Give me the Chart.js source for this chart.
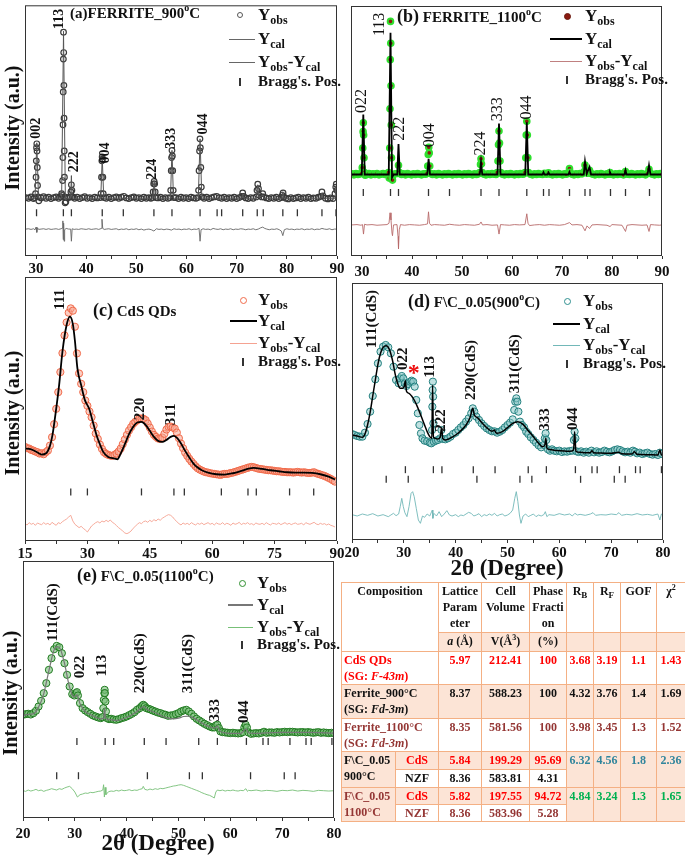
<!DOCTYPE html>
<html>
<head>
<meta charset="utf-8">
<script src="https://cdn.jsdelivr.net/npm/chart.js@4.4.0/dist/chart.umd.min.js"></script>
<style>
body{margin:0;width:685px;height:864px;position:relative;background:#fff;overflow:hidden;
  font-family:"Liberation Serif","Times New Roman",serif;font-weight:bold;color:#111}
canvas{position:absolute}
.t{position:absolute;white-space:nowrap;line-height:1}
.t sub{font-size:12px;vertical-align:baseline;position:relative;top:4px}
.t sup{font-size:10px;vertical-align:baseline;position:relative;top:-7px}
.lg{font-size:17px}
.lg2{font-size:15px}
.ti{font-size:15px}
.big{font-size:18px}
.yt{font-size:20px;transform:translate(-50%,-50%) rotate(-90deg)}
.xt{font-size:23px;transform:translateX(-50%)}
#tbl{position:absolute;left:341px;top:582px;width:344px;border-collapse:collapse;table-layout:fixed;font-size:12px;font-weight:bold}
#tbl td{border:1px solid #f4b084;padding:0 1px;vertical-align:top;text-align:center;line-height:16px;white-space:nowrap;overflow:hidden}
#tbl sub{font-size:9px;vertical-align:baseline;position:relative;top:3px}
#tbl sup{font-size:8px;vertical-align:baseline;position:relative;top:-5px}
.pe{background:#fce4d6}
#tbl td.l{text-align:left;padding-left:2px}
.red{color:#ff0000}.dr{color:#943634}.teal{color:#31859c}.grn{color:#00b050}
</style>
</head>
<body>
<canvas id="cA" width="355" height="285" style="left:0;top:0"></canvas>
<canvas id="cB" width="345" height="285" style="left:340px;top:0"></canvas>
<canvas id="cC" width="355" height="295" style="left:0;top:270px"></canvas>
<canvas id="cD" width="345" height="290" style="left:340px;top:276px"></canvas>
<canvas id="cE" width="350" height="300" style="left:0;top:553px"></canvas>

<div class="t ti" style="left:70px;top:6px">(a)FERRITE_900<sup>o</sup>C</div>
<div class="t ti" style="left:397px;top:7px"><span class="big">(b)</span> FERRITE_1100<sup>o</sup>C</div>
<div class="t ti" style="left:93px;top:301px"><span class="big">(c)</span> CdS QDs</div>
<div class="t ti" style="left:408px;top:292px"><span class="big">(d)</span> F\C_0.05(900<sup>o</sup>C)</div>
<div class="t ti" style="left:77px;top:566px"><span class="big">(e)</span> F\C_0.05(1100<sup>o</sup>C)</div>

<div class="t yt" style="left:12px;top:128px">Intensity (a.u.)</div>
<div class="t yt" style="left:12px;top:413px">Intensity (a.u.)</div>
<div class="t yt" style="left:10px;top:693px">Intensity (a.u.)</div>
<div class="t xt" style="left:507px;top:556px">2θ (Degree)</div>
<div class="t xt" style="left:158px;top:831px">2θ (Degree)</div>

<table id="tbl">
<colgroup><col style="width:54px"><col style="width:43px"><col style="width:43px"><col style="width:48px"><col style="width:37px"><col style="width:27px"><col style="width:27px"><col style="width:36px"><col style="width:29px"></colgroup>
<tr style="height:50px"><td colspan="2" rowspan="2">Composition</td><td>Lattice<br>Param<br>eter</td><td>Cell<br>Volume</td><td>Phase<br>Fracti<br>on</td><td>R<sub>B</sub></td><td>R<sub>F</sub></td><td>GOF</td><td>χ<sup>2</sup></td></tr>
<tr class="pe" style="height:17px"><td><i>a</i> (Å)</td><td>V(Å<sup>3</sup>)</td><td>(%)</td><td></td><td></td><td></td><td></td></tr>
<tr class="red" style="height:33px"><td colspan="2" class="l">CdS QDs<br>(SG: <i>F-43m</i>)</td><td>5.97</td><td>212.41</td><td>100</td><td>3.68</td><td>3.19</td><td>1.1</td><td>1.43</td></tr>
<tr class="pe" style="height:34px"><td colspan="2" class="l">Ferrite_900°C<br>(SG: <i>Fd-3m</i>)</td><td>8.37</td><td>588.23</td><td>100</td><td>4.32</td><td>3.76</td><td>1.4</td><td>1.69</td></tr>
<tr class="dr" style="height:33px"><td colspan="2" class="l">Ferrite_1100°C<br>(SG: <i>Fd-3m</i>)</td><td>8.35</td><td>581.56</td><td>100</td><td>3.98</td><td>3.45</td><td>1.3</td><td>1.52</td></tr>
<tr style="height:18px"><td rowspan="2" class="l pe">F\C_0.05<br>900°C</td><td class="pe red">CdS</td><td class="pe red">5.84</td><td class="pe red">199.29</td><td class="pe red">95.69</td><td rowspan="2" class="pe teal">6.32</td><td rowspan="2" class="pe teal">4.56</td><td rowspan="2" class="pe teal">1.8</td><td rowspan="2" class="pe teal">2.36</td></tr>
<tr style="height:18px"><td>NZF</td><td>8.36</td><td>583.81</td><td>4.31</td></tr>
<tr style="height:17px"><td rowspan="2" class="l pe dr">F\C_0.05<br>1100°C</td><td class="pe red">CdS</td><td class="pe red">5.82</td><td class="pe red">197.55</td><td class="pe red">94.72</td><td rowspan="2" class="pe grn">4.84</td><td rowspan="2" class="pe grn">3.24</td><td rowspan="2" class="pe grn">1.3</td><td rowspan="2" class="pe grn">1.65</td></tr>
<tr class="dr" style="height:17px"><td>NZF</td><td>8.36</td><td>583.96</td><td>5.28</td></tr>
</table>

<script>
// ---------- (a) ferrite 900 C ----------
const obsA = [
  [28,178],[28.5,176],[29,180],[29.5,175],[29.7,178],[29.9,190],[30,240],[30.05,290],[30.1,330],[30.15,342],[30.2,320],[30.25,270],[30.3,215],[30.4,180],[30.55,168],
  [31,177],[31.5,181],[32,176],[32.5,179],[33,175],[33.5,178],[34,180],[34.5,176],[34.9,180],[35.1,190],[35.2,185],[35.3,230],[35.35,300],[35.38,400],[35.42,500],[35.45,600],
  [35.48,682],[35.52,620],[35.55,520],[35.58,420],[35.62,320],[35.66,240],[35.72,180],[35.8,162],[35.95,165],[36.1,178],
  [36.5,178],[36.8,180],[36.95,195],[37.05,217],[37.15,200],[37.3,180],[37.7,176],[38.2,179],[38.7,175],[39.2,178],[39.7,181],[40.2,176],[40.7,178],[41.2,175],[41.7,179],[42.2,177],
  [42.8,178],[42.95,190],[43.05,240],[43.12,290],[43.18,302],[43.25,295],[43.32,240],[43.4,190],[43.55,178],
  [44,176],[44.5,179],[45,175],[45.5,178],[46,180],[46.5,176],[47,179],[47.5,182],[48,177],[48.5,175],[49,178],[49.5,180],[50,176],[50.5,178],[51,175],[51.5,179],[52,176],[52.5,178],[52.9,176],
  [53.2,178],[53.35,195],[53.45,220],[53.55,227],[53.65,220],[53.75,195],[53.9,178],
  [54.3,177],[54.8,179],[55.3,175],[55.8,178],[56.3,176],
  [56.7,178],[56.85,200],[56.95,260],[57.02,300],[57.1,322],[57.18,305],[57.25,260],[57.35,200],[57.5,178],
  [57.9,178],[58.4,175],[58.9,179],[59.4,176],[59.9,178],[60.4,175],[60.9,179],[61.4,177],[61.9,176],
  [62.25,178],[62.4,200],[62.5,260],[62.6,320],[62.68,357],[62.76,330],[62.85,270],[62.95,210],[63.1,180],
  [63.5,176],[64,179],[64.5,175],[65,178],[65.5,180],[66,182],[66.5,178],[67,176],[67.5,179],[68,175],[68.5,178],[69,176],[69.5,179],[70,175],[70.5,178],
  [71,182],[71.2,192],[71.4,182],[71.8,177],[72.3,175],[72.8,178],[73.3,176],
  [73.9,180],[74.05,200],[74.2,219],[74.35,205],[74.5,185],[75,180],[75.2,190],[75.4,180],
  [75.9,177],[76.4,175],[76.9,178],[77.4,176],[77.9,179],[78.4,175],[78.9,178],[79.1,185],[79.25,192],[79.4,180],
  [79.8,176],[80.3,174],[80.8,178],[81.3,175],[81.8,177],[82.3,179],[82.8,175],[83.3,178],[83.8,176],[84.3,179],[84.8,175],[85.3,177],[85.8,176],[86.3,179],
  [86.8,182],[87,195],[87.2,183],[87.7,176],[88.2,174],[88.7,177],[89.2,175],[89.6,190],[89.75,210],[89.85,219],[89.95,200]
];
const calA = [
  [27.8,176],[29.8,176],[30.15,345],[30.5,176],[35.1,176],[35.48,685],[35.85,168],[36.2,176],[36.9,176],[37.05,245],[37.2,176],
  [42.9,176],[43.2,300],[43.5,176],[53.3,176],[53.55,228],[53.8,176],[56.8,176],[57.1,322],[57.4,176],[62.35,176],[62.7,357],[63.05,176],
  [71,176],[71.2,190],[71.4,176],[73.95,176],[74.2,217],[74.45,178],[75.2,186],[75.4,176],[79,176],[79.2,196],[79.4,176],
  [86.8,176],[87,192],[87.2,176],[89.6,176],[89.85,218],[90,205]
];
const difA = [
  [28,82],[28.5,83],[29,81],[29.5,83],[29.8,80],[30,88],[30.15,72],[30.3,86],[30.5,81],[31,82],[31.5,83],[32,81],[32.5,83],[33,81],[33.5,82],[34,83],[34.5,81],[35,83],
  [35.25,85],[35.35,107],[35.42,50],[35.5,100],[35.6,45],[35.7,80],[36,84],[36.5,82],[36.9,82],[37.05,45],[37.2,83],[37.6,81],[38,82],[38.5,81],[39,83],[39.5,82],[40,81],
  [40.5,83],[41,81],[41.5,82],[42,83],[42.5,81],[43.05,84],[43.15,112],[43.3,84],[43.6,81],[44,82],[44.5,83],[45,81],[45.5,82],[46,83],[46.5,80],[47,82],[47.5,81],[48,83],
  [48.5,80],[49,82],[49.5,81],[50,83],[50.5,80],[51,82],[51.5,79],[52,81],[52.5,82],[53,80],[53.5,76],[54,83],[54.5,81],[55,82],[55.5,80],[56,82],[56.5,81],[57,79],
  [57.5,83],[58,81],[58.5,82],[59,80],[59.5,82],[60,81],[60.5,83],[61,80],[61.5,82],[62,81],[62.5,84],[62.7,45],[62.9,80],[63.3,83],[63.8,81],[64.3,82],[64.8,80],
  [65.3,84],[65.8,82],[66.3,81],[66.8,83],[67.3,80],[67.8,82],[68.3,81],[68.8,83],[69.3,80],[69.8,82],[70.3,81],[70.8,83],[71.3,82],[71.8,80],[72.3,82],[72.8,81],
  [73.3,83],[73.8,80],[74.3,82],[74.8,86],[75.2,88],[75.6,84],[76,82],[76.5,80],[77,82],[77.5,81],[78,83],[78.5,80],[78.9,76],[79.2,62],[79.5,80],[80,83],[80.5,81],
  [81,82],[81.5,80],[82,82],[82.5,81],[83,83],[83.5,80],[84,82],[84.5,81],[85,83],[85.5,80],[86,82],[86.5,81],[87,84],[87.5,82],[88,81],[88.5,83],[89,80],[89.5,82],[90,82]
];
const braggA = [30.1, 35.45, 37.05, 43.2, 47.4, 53.5, 57.1, 62.7, 66.1, 67.0, 71.2, 74.1, 75.3, 79.2, 82.1, 87.0, 89.8];
const peaksA = [[30.0,357,'002'],[34.6,692,'113'],[37.6,255,'222'],[43.9,282,'004'],[53.1,232,'224'],[57.0,327,'333'],[63.3,370,'044']];

// ---------- (b) ferrite 1100 C ----------
const obsB = [
  [28,251],[28.4,248],[28.8,252],[29.2,249],[29.6,251],[29.9,252],[30.05,270],[30.15,330],[30.22,380],[30.27,407],[30.33,370],[30.4,300],[30.5,255],[30.65,247],
  [31,250],[31.4,252],[31.8,248],[32.2,251],[32.6,249],[33,252],[33.4,248],[33.8,250],[34.2,252],[34.6,249],[35,251],[35.3,255],[35.45,238],[35.55,330],[35.6,450],
  [35.65,600],[35.7,717],[35.75,650],[35.8,520],[35.85,400],[35.9,300],[36,240],[36.1,232],[36.25,248],
  [36.6,251],[37.1,252],[37.3,277],[37.5,255],[37.9,249],[38.3,251],[38.7,248],[39.1,252],[39.5,250],[39.9,248],[40.3,251],[40.7,249],[41.1,252],[41.5,250],[41.9,248],[42.3,251],[42.7,250],
  [43,252],[43.15,275],[43.25,310],[43.35,332],[43.45,315],[43.55,275],[43.7,252],
  [44.1,249],[44.5,251],[44.9,248],[45.3,252],[45.7,250],[46.1,248],[46.5,251],[46.9,249],[47.3,252],[47.7,250],[48.1,248],[48.5,251],[48.9,249],[49.3,252],[49.7,250],
  [50.1,248],[50.5,251],[50.9,249],[51.3,252],[51.7,250],[52.1,248],[52.5,251],[52.9,249],[53.3,251],
  [53.55,255],[53.7,280],[53.8,297],[53.9,282],[54.05,255],
  [54.4,250],[54.8,248],[55.2,251],[55.6,249],[56,252],[56.4,250],[56.8,249],
  [57.05,255],[57.2,290],[57.3,340],[57.4,382],[57.5,345],[57.6,290],[57.75,255],
  [58.1,250],[58.5,248],[58.9,251],[59.3,249],[59.7,252],[60.1,250],[60.5,248],[60.9,251],[61.3,249],[61.7,252],[62.1,250],[62.4,251],
  [62.6,255],[62.75,300],[62.85,370],[62.96,412],[63.07,370],[63.17,300],[63.3,255],
  [63.7,250],[64.1,248],[64.5,251],[64.9,249],[65.3,252],[65.7,250],[66.1,249],[66.5,253],[66.9,250],[67.3,254],[67.7,250],[68.1,248],[68.5,251],[68.9,249],[69.3,252],
  [69.7,250],[70.1,248],[70.5,251],[70.9,250],[71.35,256],[71.5,267],[71.65,256],[72,250],[72.4,248],[72.8,251],[73.2,249],[73.6,252],[74,251],[74.45,258],[74.6,278],
  [74.75,262],[75.1,253],[75.5,262],[75.8,252],[76.2,250],[76.6,248],[77,251],[77.4,249],[77.8,252],[78.2,250],[78.6,248],[79,251],[79.4,250],[79.6,255],[79.9,250],
  [80.3,248],[80.7,251],[81.1,249],[81.5,252],[81.9,250],[82.3,248],[82.7,258],[83.1,250],[83.5,249],[83.9,252],[84.3,250],[84.7,248],[85.1,251],[85.5,249],[85.9,252],
  [86.3,250],[86.7,248],[87.1,252],[87.4,265],[87.7,252],[88.1,250],[88.5,248],[88.9,251],[89.3,249],[89.7,252],[90,250]
];
const calB = [
  [27.8,249],[29.95,249],[30.26,432],[30.55,249],[35.35,249],[35.7,682],[36,240],[36.3,249],[37.05,249],[37.3,342],[37.55,249],[43.05,249],[43.32,297],[43.6,249],
  [53.55,249],[53.8,287],[54.05,249],[57.1,249],[57.4,405],[57.7,249],[62.65,249],[62.96,409],[63.25,249],[66.1,249],[66.3,256],[66.5,249],[67.1,249],[67.3,255],
  [67.5,249],[71.3,249],[71.5,257],[71.7,249],[74.35,249],[74.6,289],[74.95,252],[75.5,272],[75.8,249],[79.4,249],[79.6,256],[79.8,249],[82.5,249],[82.7,262],
  [82.9,249],[87.1,249],[87.4,277],[87.7,249],[90,249]
];
const difB = [
  [28,95],[29,96],[29.8,94],[30.1,96],[30.3,67],[30.5,97],[31,95],[32,96],[33,94],[34,95],[35,96],[35.4,100],[35.6,132],[35.8,110],[36,70],[36.1,62],[36.3,95],[37,96],
  [37.2,60],[37.3,22],[37.45,80],[37.7,96],[38.5,94],[39.5,96],[40.5,95],[41.5,94],[42.5,96],[43.1,98],[43.3,135],[43.5,100],[43.8,94],[44.5,96],[45.5,95],[46.5,94],
  [47.5,97],[48.5,95],[49.5,94],[50.5,96],[51.5,95],[52.5,94],[53.5,97],[53.8,104],[54.1,95],[55,96],[56,94],[57.1,95],[57.4,67],[57.7,96],[58.5,95],[59.5,94],[60.5,96],
  [61.5,95],[62.6,96],[62.96,129],[63.2,100],[63.5,93],[64.5,95],[65.5,96],[66.5,94],[67.5,96],[68.5,95],[69.5,94],[70.5,96],[71.5,102],[72,95],[73,96],[74,94],
  [74.6,77],[75,92],[75.5,84],[76,95],[77,96],[78,95],[79,94],[79.6,90],[80,96],[81,95],[82,94],[82.7,75],[83,94],[84,96],[85,95],[86,94],[87,95],[87.4,75],[87.7,96],
  [88.5,95],[89.5,94],[90,95]
];
const braggB = [30.26, 35.7, 37.3, 43.3, 47.5, 53.8, 57.4, 62.96, 66.3, 67.4, 71.5, 74.6, 75.6, 79.7, 82.7, 87.5];
const peaksB = [[30.0,437,'022'],[33.5,672,'113'],[37.6,352,'222'],[43.5,332,'004'],[53.7,307,'224'],[57.2,412,'333'],[62.9,417,'044']];

// ---------- (c) CdS QDs (observed and difference sampled every 0.5 deg from 15) ----------
const obsC = [
  282,278,277,273,271,268,266,262,263,260,
  266,271,286,311,350,396,446,506,563,616,
  655,684,697,690,642,562,502,471,446,421,
  405,388,371,346,322,306,289,276,266,261,
  258,256,255,258,262,268,277,290,304,318,
  331,341,351,357,362,367,367,366,362,352,
  340,328,318,312,307,306,310,321,334,342,
  343,340,337,325,308,292,278,265,255,246,
  238,231,224,218,214,211,208,206,205,203,
  202,201,200,199,198,200,201,201,202,204,
  205,207,209,211,213,215,217,219,221,222,
  221,219,217,216,215,214,213,212,212,211,
  210,209,209,208,207,207,206,206,206,205,
  206,207,206,205,206,205,204,204,205,206,
  203,201,199,197,195,192,189,186,182,178
];
const difC = [
  52,48,55,50,53,47,54,51,49,55,
  50,53,48,56,51,47,55,52,58,62,
  66,72,77,60,50,45,40,44,38,33,
  27,36,45,50,55,58,54,60,57,62,
  58,63,56,52,46,40,35,30,24,22,
  25,30,38,44,50,55,52,58,60,56,
  62,58,64,60,66,62,68,72,76,79,
  77,72,64,58,52,48,54,50,53,49,
  55,51,48,53,50,54,49,52,55,50,
  53,48,54,51,50,55,49,53,51,47,
  54,50,52,56,49,53,51,55,50,52,
  48,54,51,50,53,49,55,51,48,53,
  52,50,54,49,52,55,50,53,49,52,
  54,50,51,53,48,55,52,50,53,56,
  51,49,53,50,52,48,51,47,45,42
];
const calC = [
  [15,277],[16,276],[17,272],[18,265],[19,259],[20,262],[21,285],[21.6,317],[22.4,387],[23.2,467],[24,567],[25,647],[25.8,672],[26.5,650],[27,600],[27.6,517],
  [28.5,467],[29.4,422],[30.4,397],[31.2,362],[32.2,317],[33,290],[33.8,267],[35,252],[36.6,247],[37.2,245],[38,262],[39,290],[40,320],[41,342],[42,355],[43,357],
  [44,348],[45,330],[46,312],[47,300],[48,297],[49,303],[50,312],[50.8,315],[51.6,308],[52.5,292],[53.5,270],[54.5,250],[55.5,232],[56.5,220],[57.5,212],[59,205],
  [61,200],[63,199],[65,203],[67,210],[68.5,216],[70,219],[72,216],[74,212],[76,209],[78,206],[80,205],[82,205],[84,204],[86,200],[88,193],[89.5,184]
];
const braggC = [26.0, 30.0, 43.0, 50.8, 53.3, 62.2, 68.6, 70.6, 78.6, 84.4];
const peaksC = [[23.4,692,'111'],[42.7,362,'220'],[50.2,347,'311']];

// ---------- (d) F\C_0.05 900 C ----------
const obsD = [
  [20,318],[20.5,315],[21,312],[21.5,310],[22,310],[22.5,322],[23,348],[23.5,385],[24,432],[24.5,482],[25,530],[25.5,565],[26,580],[26.5,585],[27,578],[27.5,560],
  [28,520],[28.5,480],[29,470],[29.3,485],[29.6,492],[29.9,485],[30.2,470],[30.5,462],[30.8,468],[31.2,475],[31.5,478],[31.8,475],[32.1,460],[32.4,420],[32.7,380],
  [33,345],[33.3,320],[33.6,305],[34,298],[34.5,296],[35,292],[35.3,290],[35.45,330],[35.5,400],[35.55,450],[35.6,475],[35.65,430],[35.7,350],[35.8,295],[36.2,298],
  [36.6,300],[37,305],[37.25,330],[37.5,303],[38,302],[38.5,305],[39,310],[39.5,318],[40,322],[40.5,330],[41,338],[41.5,345],[42,355],[42.5,365],[43,380],[43.3,395],
  [43.6,385],[44,370],[44.5,360],[45,350],[45.5,342],[46,335],[46.5,330],[47,326],[47.5,326],[48,322],[48.5,325],[49,330],[49.5,338],[50,345],[50.5,352],[51,362],
  [51.3,390],[51.5,415],[51.7,425],[51.9,415],[52.1,385],[52.4,355],[52.8,345],[53.2,338],[53.6,325],[54,318],[54.5,308],[55,300],[55.5,292],[56,284],[56.5,278],
  [57,285],[57.2,305],[57.35,320],[57.5,300],[57.8,272],[58.2,268],[58.6,272],[59,268],[59.5,266],[60,268],[60.5,264],[61,266],[61.5,265],[62,267],[62.5,268],
  [62.8,300],[62.95,325],[63.1,305],[63.3,266],[63.7,264],[64.2,266],[64.7,262],[65.2,265],[65.7,262],[66.2,268],[66.7,263],[67.2,266],[67.7,262],[68.2,264],
  [68.7,268],[69.2,265],[69.7,263],[70.2,266],[70.7,270],[71.2,272],[71.7,270],[72.2,266],[72.7,263],[73.2,265],[73.7,262],[74.2,268],[74.6,265],[75,260],
  [75.5,262],[76,258],[76.5,260],[77,262],[77.5,258],[78,256],[78.5,258],[79,255],[79.4,262],[79.8,258]
];
const calD = [
  [20,315],[21,312],[22,308],[22.5,318],[23,345],[23.5,383],[24,432],[24.5,480],[25,527],[25.5,560],[26,578],[26.6,583],[27.2,572],[27.8,540],[28.3,500],[28.8,470],
  [29.3,455],[29.8,455],[30.1,462],[30.3,478],[30.5,447],[31,440],[31.5,432],[32,420],[32.5,404],[33,385],[33.5,365],[34,345],[34.5,325],[35,310],[35.4,305],
  [35.55,465],[35.7,310],[36,305],[36.5,303],[37,308],[37.3,337],[37.5,305],[38,300],[39,306],[40,315],[41,328],[42,345],[42.8,368],[43.3,395],[43.6,375],[44.2,367],
  [45,353],[46,337],[47,326],[47.5,330],[47.7,323],[48,320],[49,325],[50,337],[51,350],[52,355],[53,347],[54,328],[55,310],[56,290],[56.8,280],[57.2,285],[57.4,305],
  [57.6,276],[58,272],[59,269],[60,268],[61,267],[62,266],[62.75,270],[62.95,325],[63.2,266],[64,263],[65,262],[66,262],[66.3,268],[66.6,262],[68,261],[70,260],
  [71.5,263],[72,259],[74,258],[74.5,265],[75,257],[77,256],[79,255],[79.4,270],[79.7,255],[80,255]
];
const difD = [
  [20,76],[21,72],[22,78],[23,74],[24,79],[25,72],[26,76],[27,70],[27.5,75],[28,80],[28.5,73],[29,78],[29.3,100],[29.6,125],[29.9,100],[30.2,82],[30.6,70],[31,100],
  [31.4,140],[31.7,145],[32,130],[32.4,95],[32.8,60],[33.2,50],[33.6,72],[34,68],[34.5,78],[35,72],[35.5,90],[35.6,65],[35.8,80],[36.3,72],[36.8,85],[37.3,70],
  [37.8,78],[38.3,88],[38.8,75],[39.3,72],[40,76],[40.5,70],[41,75],[41.5,73],[42,78],[42.5,83],[43,80],[43.5,72],[44,75],[44.5,79],[45,70],[45.5,76],[46,73],
  [46.5,78],[47,74],[47.5,80],[48,72],[48.5,76],[49,78],[49.5,72],[50,75],[50.5,80],[51,90],[51.4,125],[51.7,145],[52,115],[52.3,75],[52.6,50],[53,72],[53.5,78],
  [54,70],[54.5,74],[55,78],[55.5,70],[56,75],[56.5,72],[57,76],[57.3,85],[57.6,70],[58,76],[59,74],[60,79],[61,75],[62,78],[62.5,72],[63,80],[63.5,75],[64,77],
  [65,74],[66,78],[66.5,82],[67,74],[68,76],[69,75],[70,78],[71,76],[71.5,82],[72,74],[73,77],[74,75],[75,79],[76,75],[77,77],[78,74],[79,78],[79.4,60],[79.7,78],[80,76]
];
const braggD1 = [30.3, 35.7, 37.35, 43.4, 47.6, 54.0, 57.5, 63.1, 66.3, 67.3, 71.6, 74.7, 75.6, 79.7];
const braggD2 = [26.6, 30.85, 44.1, 52.4, 54.7, 64.1, 70.6, 72.7];
const peaksD = [[23.9,575,'111(CdS)'],[29.9,510,'022'],[35.1,487,'113'],[37.2,325,'222'],[42.9,420,'220(CdS)'],[51.45,440,'311(CdS)'],[57.35,328,'333'],[62.7,330,'044']];

// ---------- (e) F\C_0.05 1100 C ----------
const obsE = [
  [20,310],[20.5,312],[21,313],[21.5,311],[22,315],[22.5,322],[23,335],[23.5,352],[24,375],[24.5,405],[25,445],[25.5,480],[26,507],[26.5,517],[27,513],[27.5,495],
  [28,465],[28.5,430],[29,395],[29.5,372],[29.9,368],[30.2,375],[30.4,378],[30.6,368],[31,345],[31.5,330],[32,323],[32.5,318],[33,313],[33.5,308],[34,305],[34.5,302],
  [35,300],[35.3,303],[35.5,330],[35.6,355],[35.7,375],[35.75,385],[35.8,375],[35.9,350],[36,320],[36.2,300],[36.6,297],[37,298],[37.5,296],[38,295],[38.5,297],
  [39,300],[39.5,302],[40,305],[40.5,309],[41,313],[41.5,318],[42,325],[42.5,330],[42.9,336],[43.2,340],[43.5,336],[43.8,330],[44.2,328],[44.6,326],[45,323],
  [45.5,320],[46,317],[46.5,315],[47,312],[47.5,310],[48,307],[48.5,308],[49,309],[49.5,312],[50,315],[50.5,320],[51,323],[51.5,325],[52,320],[52.5,313],[53,305],
  [53.5,298],[54,293],[54.5,288],[55,283],[55.5,279],[56,275],[56.5,272],[56.9,272],[57.2,278],[57.5,280],[57.8,270],[58.1,260],[58.5,258],[59,257],[59.5,256],
  [60,255],[60.5,256],[61,255],[61.5,254],[62,255],[62.4,258],[62.7,272],[62.95,280],[63.2,272],[63.5,257],[64,253],[64.5,254],[65,255],[65.5,254],[66,256],
  [66.5,259],[67,256],[67.5,257],[68,257],[68.5,256],[69,258],[69.5,257],[70,258],[70.5,259],[71,258],[71.5,259],[72,259],[72.5,258],[73,257],[73.5,258],[74,258],
  [74.5,257],[75,258],[75.5,257],[76,256],[76.5,257],[77,258],[77.5,256],[78,257],[78.5,256],[79,255],[79.5,256],[80,255]
];
const calE = [
  [20,308],[21,311],[22,313],[23,333],[24,373],[25,443],[26,505],[26.6,515],[27.2,508],[28,465],[29,392],[29.8,364],[30.4,370],[31,343],[32,320],[33,311],[34,303],
  [35,298],[35.6,300],[35.75,330],[35.9,300],[36.5,296],[38,293],[40,302],[42,320],[43.3,335],[44,326],[45,320],[46,313],[47,305],[48,300],[49,298],[50,300],[51,305],
  [52,306],[53,300],[54,290],[55,281],[56,274],[57,270],[57.5,276],[58,261],[59,256],[60,254],[62,254],[63,268],[63.5,256],[65,254],[67,256],[70,257],[75,257],[80,255]
];
const difE = [
  [20,82],[20.5,80],[21,84],[21.5,81],[22,83],[22.5,86],[23,82],[23.5,84],[24,80],[24.5,83],[25,85],[25.5,88],[26,86],[26.5,84],[27,88],[27.5,86],[28,90],[28.5,93],
  [29,95],[29.5,88],[30,78],[30.5,63],[31,70],[31.5,72],[32,75],[32.5,74],[33,77],[33.5,76],[34,78],[34.5,80],[35,81],[35.4,84],[35.55,100],[35.7,63],[35.85,92],
  [36,70],[36.5,79],[37,81],[37.5,80],[38,83],[38.5,81],[39,84],[39.5,82],[40,83],[40.5,85],[41,82],[41.5,84],[42,83],[42.5,86],[43,88],[43.2,95],[43.5,86],[44,84],
  [44.5,87],[45,85],[45.5,88],[46,86],[46.5,89],[47,88],[47.5,90],[48,92],[48.5,94],[49,96],[49.5,97],[50,99],[50.5,100],[51,98],[51.5,95],[52,92],[52.5,89],[53,86],
  [53.5,83],[54,80],[54.5,76],[55,73],[55.5,70],[56,68],[56.5,64],[56.9,60],[57.2,78],[57.5,84],[58,82],[58.5,84],[59,81],[59.5,83],[60,82],[60.5,84],[61,82],
  [61.5,81],[62,83],[62.5,82],[63,88],[63.3,80],[63.5,83],[64,82],[65,84],[66,81],[67,83],[68,82],[69,80],[70,83],[71,82],[72,84],[73,81],[74,83],[75,82],[76,80],
  [77,83],[78,82],[79,81],[80,82]
];
const braggE1 = [30.4, 35.85, 37.5, 43.4, 47.6, 53.9, 57.5, 63.1, 66.3, 67.3, 71.5, 74.6, 75.6, 79.6];
const braggE2 = [26.5, 30.7, 44.0, 52.1, 54.6, 63.9, 70.4, 72.5];
const peaksE = [[25.8,530,'111(CdS)'],[31.0,420,'022'],[35.2,425,'113'],[42.6,375,'220(CdS)'],[51.9,375,'311(CdS)'],[57.1,290,'333'],[62.7,285,'044']];

// ---------- helpers ----------
const pts = arr => arr.map(p => ({ x: p[0], y: p[1] }));
const sampled = (start, step, vals) => vals.map((v, i) => ({ x: start + i * step, y: v }));
const SERIF = '"Liberation Serif","Times New Roman",serif';

const deco = {
  id: 'deco',
  afterDatasetsDraw(chart, args, opts) {
    const { ctx, chartArea: a, scales: { x, y } } = chart;
    ctx.save();
    ctx.strokeStyle = '#333';
    ctx.lineWidth = 1;
    ctx.strokeRect(a.left + 0.5, a.top + 0.5, a.right - a.left - 1, a.bottom - a.top - 1);
    ctx.fillStyle = '#111';
    ctx.font = opts.font;
    (opts.peaks || []).forEach(p => {
      ctx.save();
      ctx.translate(x.getPixelForValue(p[0]), y.getPixelForValue(p[1]));
      ctx.rotate(-Math.PI / 2);
      ctx.textAlign = 'left';
      ctx.textBaseline = 'middle';
      ctx.fillText(p[2], 0, 0);
      ctx.restore();
    });
    if (opts.star) {
      ctx.fillStyle = '#ee1111';
      ctx.font = 'bold 24px ' + SERIF;
      ctx.textAlign = 'center';
      ctx.textBaseline = 'middle';
      ctx.fillText('*', x.getPixelForValue(opts.star[0]), y.getPixelForValue(opts.star[1]));
    }
    ctx.restore();
  }
};

function panel(id, p) {
  const ds = [
    { data: p.cal, showLine: true, pointRadius: 0, borderColor: p.calColor, borderWidth: p.calWidth,
      cubicInterpolationMode: p.smooth ? 'monotone' : 'default', tension: 0 },
    { data: p.obs, showLine: false, pointRadius: p.r, pointBorderWidth: p.bw || 1, pointBorderColor: p.edge, pointBackgroundColor: p.fill },
    { data: p.dif, showLine: true, pointRadius: 0, borderColor: p.difColor, borderWidth: 0.9 }
  ];
  p.bragg.forEach(b => ds.push({
    data: b.pos.map(v => ({ x: v, y: b.y })), showLine: false, pointStyle: 'line', pointRotation: 90,
    pointRadius: 3.5, pointBorderWidth: 1.3, pointBorderColor: '#333'
  }));
  return new Chart(document.getElementById(id), {
    type: 'scatter',
    data: { datasets: ds },
    options: {
      responsive: false, animation: false, devicePixelRatio: 1,
      layout: { padding: p.pad },
      plugins: { legend: { display: false }, tooltip: { enabled: false }, deco: { font: p.labelFont, peaks: p.peaks, star: p.star } },
      scales: {
        x: {
          type: 'linear', min: p.xmin, max: p.xmax,
          afterFit: s => { s.height = p.axisH; },
          afterBuildTicks: s => {
            const t = [];
            for (let k = Math.ceil(p.xmin / p.minor - 1e-9); k * p.minor <= p.xmax + 1e-9; k++) t.push({ value: k * p.minor });
            s.ticks = t;
          },
          grid: { drawOnChartArea: false, drawTicks: true, tickLength: 3, color: '#333' },
          border: { display: false },
          ticks: { autoSkip: false, maxRotation: 0, padding: p.tickPad, color: '#111',
            font: { family: SERIF, size: 15, weight: 'bold' },
            callback: v => Math.abs(v / p.major - Math.round(v / p.major)) < 1e-6 ? v : '' }
        },
        y: { display: false, min: 0, max: p.ymax }
      }
    },
    plugins: [deco]
  });
}

panel('cA', { obs: pts(obsA), cal: pts(calA), dif: pts(difA), bragg: [{ pos: braggA, y: 132 }], peaks: peaksA,
  xmin: 27.8, xmax: 90, minor: 5, major: 10, ymax: 764, pad: { left: 25, top: 1, right: 18, bottom: 0 }, axisH: 29, tickPad: 1,
  r: 2.8, bw: 1.2, edge: '#3a3a3a', fill: 'rgba(255,255,255,0)', calColor: '#555', calWidth: 1, difColor: '#666', labelFont: 'bold 14px ' + SERIF });
panel('cB', { obs: pts(obsB), cal: pts(calB), dif: pts(difB), bragg: [{ pos: braggB, y: 194 }], peaks: peaksB,
  xmin: 27.8, xmax: 90, minor: 5, major: 10, ymax: 764, pad: { left: 11, top: 1, right: 23, bottom: 0 }, axisH: 29, tickPad: 4,
  r: 2.8, bw: 2, edge: '#2ee02e', fill: '#8b1a10', calColor: '#000', calWidth: 1.8, difColor: '#b86a6a', labelFont: '16px ' + SERIF });
panel('cC', { obs: sampled(15, 0.5, obsC), cal: pts(calC), dif: sampled(15, 0.5, difC), bragg: [{ pos: braggC, y: 147 }], peaks: peaksC,
  xmin: 15, xmax: 90, minor: 7.5, major: 15, ymax: 791, pad: { left: 25, top: 7, right: 18, bottom: 0 }, axisH: 24, tickPad: 1,
  r: 3.6, edge: '#f06a4a', fill: 'rgba(248,165,145,0.55)', calColor: '#000', calWidth: 1.8, difColor: '#f5a291', labelFont: 'bold 15px ' + SERIF, smooth: true });
panel('cD', { obs: pts(obsD), cal: pts(calD), dif: pts(difD), bragg: [{ pos: braggD1, y: 211 }, { pos: braggD2, y: 182 }], peaks: peaksD, star: [31.9, 500],
  xmin: 20, xmax: 80, minor: 5, major: 10, ymax: 771, pad: { left: 12, top: 7, right: 22, bottom: 0 }, axisH: 26, tickPad: 1,
  r: 3.6, edge: '#23807f', fill: 'rgba(140,200,200,0.55)', calColor: '#000', calWidth: 1.5, difColor: '#72b8b8', labelFont: 'bold 15px ' + SERIF, smooth: true });
panel('cE', { obs: pts(obsE), cal: pts(calE), dif: pts(difE), bragg: [{ pos: braggE1, y: 230 }, { pos: braggE2, y: 127 }], peaks: peaksE,
  xmin: 20, xmax: 80, minor: 5, major: 10, ymax: 772, pad: { left: 23, top: 8, right: 16, bottom: 0 }, axisH: 35, tickPad: 4,
  r: 3.6, edge: '#1f7a1f', fill: 'rgba(120,190,120,0.6)', calColor: '#777', calWidth: 1.2, difColor: '#77c077', labelFont: 'bold 15px ' + SERIF, smooth: true });

// ---------- legends ----------
function box(l, t, w, h, css) {
  const d = document.createElement('div');
  d.style.cssText = `position:absolute;left:${l}px;top:${t}px;width:${w}px;height:${h}px;${css}`;
  document.body.appendChild(d);
}
function text(html, l, t, cls) {
  const d = document.createElement('div');
  d.className = 't ' + cls;
  d.style.left = l + 'px';
  d.style.top = t + 'px';
  d.innerHTML = html;
  document.body.appendChild(d);
}
function legend(L) {
  const [y1, y2, y3, y4] = L.ys;
  box(L.mx - L.r, y1 - L.r, 2 * L.r, 2 * L.r, `border-radius:50%;box-sizing:border-box;border:1.3px solid ${L.edge};background:${L.fill}`);
  box(L.l1, y2 - L.cw / 2, L.l2 - L.l1, L.cw, `background:${L.cc}`);
  box(L.l1, y3 - 0.5, L.l2 - L.l1, 1, `background:${L.dc}`);
  box(L.mx - 0.75, y4 - 4, 1.5, 8, 'background:#333');
  text('Y<sub>obs</sub>', L.tx, y1 - 9, 'lg');
  text('Y<sub>cal</sub>', L.tx, y2 - 9, 'lg');
  text('Y<sub>obs</sub>-Y<sub>cal</sub>', L.tx, y3 - 9, 'lg');
  text("Bragg's. Pos.", L.tx, y4 - 8, 'lg2');
}
legend({ mx: 240, l1: 229, l2: 255, tx: 258, ys: [15, 39, 62, 82], r: 3, edge: '#555', fill: '#fff', cc: '#666', cw: 1, dc: '#666' });
legend({ mx: 567, l1: 550, l2: 582, tx: 585, ys: [16, 39, 61, 80], r: 3.5, edge: '#6a1a10', fill: '#8b1a10', cc: '#000', cw: 2, dc: '#c08080' });
legend({ mx: 243, l1: 230, l2: 257, tx: 258, ys: [300, 321, 343, 362], r: 3.5, edge: '#f06a4a', fill: '#fff', cc: '#000', cw: 2, dc: '#f5a291' });
legend({ mx: 567, l1: 553, l2: 580, tx: 583, ys: [301, 324, 345, 364], r: 3.5, edge: '#2e8f8f', fill: '#fff', cc: '#000', cw: 2, dc: '#72b8b8' });
legend({ mx: 242, l1: 228, l2: 253, tx: 257, ys: [583, 605, 627, 645], r: 3.5, edge: '#2f8f2f', fill: '#fff', cc: '#777', cw: 1.5, dc: '#77c077' });
</script>
</body>
</html>
